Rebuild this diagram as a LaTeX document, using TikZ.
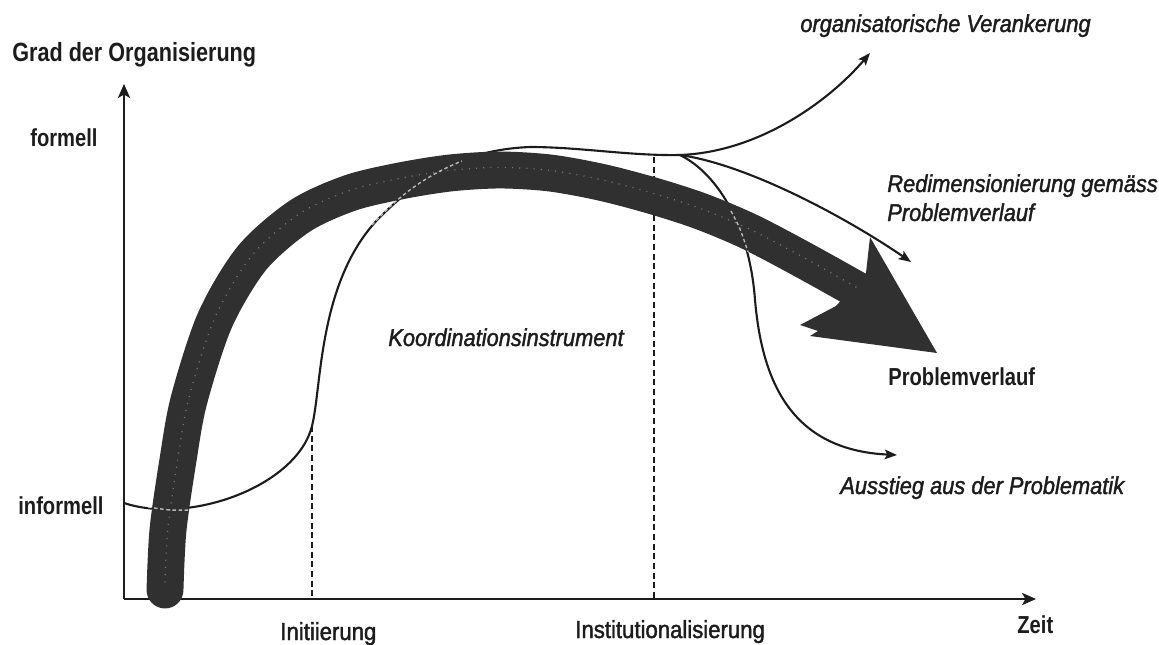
\documentclass[tikz,border=0pt]{standalone}
\usepackage{fontspec}
\setmainfont{Liberation Sans}
\newfontfamily\lblnarrow[FakeStretch=0.82]{Liberation Sans}
\newfontfamily\lblwide[FakeStretch=0.9,FakeBold=1.6]{Liberation Sans}
\usetikzlibrary{arrows.meta}
\definecolor{bandgray}{HTML}{303030}
\definecolor{ink}{HTML}{1C1C1C}

\begin{document}
\begin{tikzpicture}[x=0.02cm, y=-0.02cm,
  heading/.style={anchor=base west, inner sep=0pt, text=ink,
    font=\lblnarrow\bfseries\fontsize{15}{18}\selectfont},
  boldlbl/.style={anchor=base west, inner sep=0pt, text=ink,
    font=\lblnarrow\bfseries\fontsize{14}{17}\selectfont},
  phaselbl/.style={anchor=base west, inner sep=0pt, text=ink,
    font=\lblwide\fontsize{14}{17}\selectfont},
  pathlbl/.style={anchor=base west, inner sep=0pt, text=ink,
    font=\lblwide\itshape\fontsize{13.8}{17}\selectfont},
  axisline/.style={draw=ink, line width=0.9pt, -{Stealth[length=8pt,width=7pt,inset=2pt]}},
  course/.style={draw=ink, line width=1.2pt},
  branch/.style={draw=ink, line width=1.2pt, -{Stealth[length=7pt,width=5.5pt,inset=1.5pt]}},
  phase/.style={draw=ink, line width=0.7pt, dash pattern=on 3.5pt off 2pt},
  band/.style={draw=bandgray, line width=21pt, line cap=round},
  streak/.style={draw=white, opacity=0.65, line width=0.8pt, dash pattern=on 2pt off 1.5pt},
  speckle/.style={draw=white, opacity=0.35, line width=0.7pt, dash pattern=on 0.6pt off 3.5pt},
]
\useasboundingbox (0,0) rectangle (1159,645);

% axes
\coordinate (O) at (124,599);
\coordinate (ytop) at (124,84);
\coordinate (xend) at (1036,599);
\draw[axisline] (O) -- (ytop);
\draw[axisline] (O) -- (xend);

% course of the coordination instrument
\coordinate (S0) at (124,503);
\coordinate (S1) at (312,426);
\coordinate (S2) at (380,217);
\coordinate (S3) at (530,147);
\coordinate (J) at (680,155);
\draw[course] (S0) .. controls (190,525) and (297,486) .. (S1)
  .. controls (322,386) and (318,280) .. (S2)
  .. controls (420,178) and (460,150) .. (S3)
  .. controls (580,147) and (630,156) .. (J);

% phase boundaries
\coordinate (d1bot) at (312,599);
\coordinate (d2top) at (654,157);
\coordinate (d2bot) at (654,599);
\draw[phase] (S1) -- (d1bot);
\draw[phase] (d2top) -- (d2bot);

% exit branch (runs under the band)
\coordinate (exitEnd) at (897,455);
\draw[branch] (J) .. controls (720,175) and (750,230) .. (755,300)
  .. controls (762,380) and (790,450) .. (exitEnd);

% problem course: thick band with arrowhead
\draw[band] plot[smooth] coordinates {(165,590) (168,530) (178,460) (189,400)
  (215,320) (252,258) (300,216) (350,193) (400,181) (450,173) (500,170) (550,173)
  (600,182) (650,195) (700,211) (750,232) (807,262) (875,300)};
\fill[bandgray] (866,273) -- (870,237) -- (937,353) -- (810,336) -- (818,331)
  -- (800,325) -- (836,306) -- cycle;
\draw[speckle, yshift=1.5pt] plot[smooth] coordinates {(165,585) (168,530) (178,460)
  (189,400) (215,320) (252,258) (300,216) (350,193) (400,181) (450,173) (500,170)
  (550,173) (600,182) (650,195) (700,211) (750,232) (807,262) (860,292)};

% thin lines showing through the band
\draw[streak] plot[smooth] coordinates {(148,507) (170,510) (190,510)};
\draw[streak] (372,225) .. controls (395,200) and (420,178) .. (462,161);
\draw[streak] plot[smooth] coordinates {(731,211) (740,229) (748,252)};

% branches above the band
\coordinate (anchorEnd) at (870,53);
\coordinate (redimEnd) at (911,262);
\draw[branch] (J) .. controls (760,152) and (830,100) .. (anchorEnd);
\draw[branch] (J) .. controls (750,165) and (850,220) .. (redimEnd);

% labels
\node[heading] (ylabel) at (12,62) {Grad der Organisierung};
\node[boldlbl] (formell) at (30,147) {formell};
\node[boldlbl] (informell) at (18,514) {informell};
\node[phaselbl] (init) at (280,640) {Initiierung};
\node[phaselbl] (inst) at (575,638) {Institutionalisierung};
\node[boldlbl] (zeit) at (1017,633) {Zeit};
\node[pathlbl] (koord) at (388,346) {Koordinationsinstrument};
\node[pathlbl] (veranker) at (800,32) {organisatorische Verankerung};
\node[pathlbl] (redim1) at (887,192) {Redimensionierung gemäss};
\node[pathlbl] (redim2) at (887,221) {Problemverlauf};
\node[boldlbl] (problem) at (888,385) {Problemverlauf};
\node[pathlbl] (ausstieg) at (840,494) {Ausstieg aus der Problematik};
\end{tikzpicture}
\end{document}
